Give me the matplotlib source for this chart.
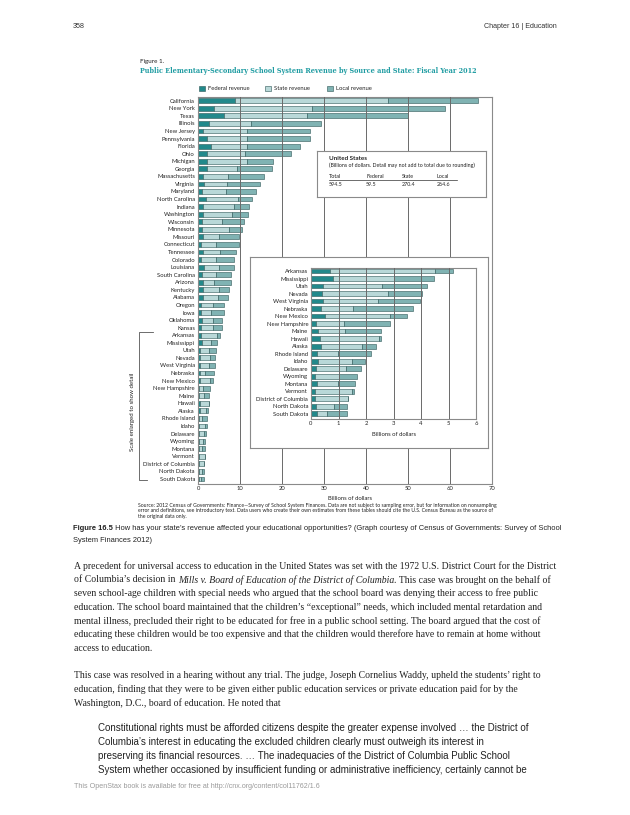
import numpy as np
import matplotlib
matplotlib.use("Agg")
import matplotlib.pyplot as plt
from matplotlib.patches import Rectangle
from matplotlib.lines import Line2D

W, H, DPI = 630, 815, 100

# ---------------- data ----------------
states = ["California", "New York", "Texas", "Illinois", "New Jersey", "Pennsylvania",
          "Florida", "Ohio", "Michigan", "Georgia", "Massachusetts", "Virginia",
          "Maryland", "North Carolina", "Indiana", "Washington", "Wisconsin",
          "Minnesota", "Missouri", "Connecticut", "Tennessee", "Colorado",
          "Louisiana", "South Carolina", "Arizona", "Kentucky", "Alabama", "Oregon",
          "Iowa", "Oklahoma", "Kansas", "Arkansas", "Mississippi", "Utah", "Nevada",
          "West Virginia", "Nebraska", "New Mexico", "New Hampshire", "Maine",
          "Hawaii", "Alaska", "Rhode Island", "Idaho", "Delaware", "Wyoming",
          "Montana", "Vermont", "District of Columbia", "North Dakota", "South Dakota"]
federal = [8.8, 3.7, 6.2, 2.5, 1.2, 2.1, 3.0, 2.1, 2.0, 2.0,
           1.0, 1.3, 0.8, 1.9, 1.1, 1.1, 0.9, 0.8, 1.1, 0.6,
           1.2, 0.7, 1.4, 0.8, 1.1, 1.0, 1.0, 0.6, 0.6, 0.8,
           0.6, 0.68, 0.80, 0.42, 0.41, 0.44, 0.38, 0.50, 0.19, 0.24,
           0.32, 0.35, 0.21, 0.27, 0.18, 0.15, 0.22, 0.15, 0.15, 0.18, 0.22]
state_rev = [36.4, 23.4, 19.7, 10.0, 10.5, 9.6, 8.7, 9.1, 9.7, 7.3,
             6.1, 5.5, 5.9, 7.5, 7.5, 7.0, 4.7, 6.5, 3.9, 3.6,
             4.0, 3.6, 3.6, 3.5, 2.7, 3.9, 3.6, 3.0, 2.5, 2.8,
             3.0, 3.83, 2.20, 2.16, 2.40, 2.01, 1.15, 2.38, 1.02, 1.01,
             2.16, 1.52, 0.76, 1.23, 1.08, 0.85, 0.75, 1.35, 1.18, 0.64, 0.36]
local_rev = [21.4, 31.6, 24.0, 16.6, 14.9, 14.8, 12.4, 10.8, 6.0, 8.2,
             8.5, 7.8, 7.0, 3.3, 3.5, 3.7, 5.2, 3.2, 4.8, 5.6,
             3.7, 4.2, 3.4, 3.5, 4.0, 2.3, 2.5, 2.4, 2.9, 2.1,
             2.0, 0.64, 1.47, 1.64, 1.24, 1.53, 2.17, 0.60, 1.65, 1.31,
             0.07, 0.51, 1.22, 0.48, 0.56, 0.66, 0.64, 0.08, 0.0, 0.49, 0.72]
inset_first = states.index("Arkansas")
main_ticks = [0, 10, 20, 30, 40, 50, 60, 70]
inset_ticks = [0, 1, 2, 3, 4, 5, 6]
legend_labels = ["Federal revenue", "State revenue", "Local revenue"]
us_headers = ["Total", "Federal", "State", "Local"]
us_values = ["594.5", "59.5", "270.4", "264.6"]

# ---------------- styles ----------------
C_FED, C_STATE, C_LOCAL = "#22898b", "#b9d8d8", "#80b3b3"
EDGE = "#2d5656"
GRID = "#6a6a6a"
FRAME = "#8a8a8a"
TEAL_TITLE = "#1f9ca2"
TXT = "#222222"
CHART_FONT = "Lato"

fig = plt.figure(figsize=(W / DPI, H / DPI), dpi=DPI)
fig.patch.set_facecolor("white")
renderer = fig.canvas.get_renderer()


def fx(x):
    return x / W


def fy(y):
    return 1 - y / H


def rect(x0, y0, x1, y1):
    return [x0 / W, 1 - y1 / H, (x1 - x0) / W, (y1 - y0) / H]


def twidth(s, size, **kw):
    t = fig.text(0, 0, s, fontsize=size, **kw)
    w = t.get_window_extent(renderer=renderer).width
    t.remove()
    return w


def adv(s, size, **kw):
    return twidth("|" + s + "|", size, **kw) - twidth("||", size, **kw)


def fit(s, width, **kw):
    return 10.0 * width / twidth(s, 10.0, **kw)


def put(x, y, s, size, ha="left", va="center", **kw):
    kw.setdefault("color", TXT)
    return fig.text(fx(x), fy(y), s, fontsize=size, ha=ha, va=va, **kw)


def put_segments(x, y, segs, size, base_kw):
    cur = x
    for s, extra in segs:
        kw = dict(base_kw)
        kw.update(extra)
        put(cur, y, s, size, **kw)
        cur += adv(s, size, **kw)


# ---------------- header ----------------
SANS = "Liberation Sans"
hs = fit("Chapter 16 | Education", 73, family=SANS)
put(73, 27, "358", hs, family=SANS, color="#333333")
put(557, 27, "Chapter 16 | Education", hs, ha="right", family=SANS, color="#333333")

# ---------------- chart title ----------------
fs = fit("Figure 1.", 24, family=CHART_FONT)
put(140, 62, "Figure 1.", fs, family=CHART_FONT)
title = "Public Elementary-Secondary School System Revenue by Source and State: Fiscal Year 2012"
ts = fit(title, 338, family="DejaVu Serif", weight="bold")
put(140, 71, title, ts, family="DejaVu Serif", weight="bold", color=TEAL_TITLE)

# ---------------- label font size ----------------
ls = fit("District of Columbia", 51.6, family=CHART_FONT)

# ---------------- legend ----------------
leg_x = [199, 265, 327]
for lx, lab, col in zip(leg_x, legend_labels, [C_FED, C_STATE, C_LOCAL]):
    fig.add_artist(Rectangle((fx(lx), fy(91.3)), 6 / W, 5.5 / H, transform=fig.transFigure,
                             facecolor=col, edgecolor=EDGE, lw=0.4))
    put(lx + 8.5, 88.6, lab, ls, family=CHART_FONT)

# ---------------- main chart ----------------
fed = np.array(federal)
sta = np.array(state_rev)
loc = np.array(local_rev)
ypos = np.arange(len(states))

ax = fig.add_axes(rect(198.3, 96.7, 492.3, 483.5))
bh = 0.64
ax.barh(ypos, fed, height=bh, color=C_FED, edgecolor=EDGE, lw=0.4, zorder=2)
ax.barh(ypos, sta, left=fed, height=bh, color=C_STATE, edgecolor=EDGE, lw=0.4, zorder=2)
ax.barh(ypos, loc, left=fed + sta, height=bh, color=C_LOCAL, edgecolor=EDGE, lw=0.4, zorder=2)
for v in main_ticks[1:-1]:
    ax.axvline(v, color=GRID, lw=0.7, zorder=3)
ax.set_xlim(0, 70)
ax.set_ylim(len(states) - 1 + 0.6, -0.53)
ax.set_yticks(ypos)
ax.set_yticklabels(states, family=CHART_FONT, fontsize=ls, color=TXT)
ax.set_xticks(main_ticks)
ax.set_xticklabels([str(t) for t in main_ticks], family=CHART_FONT, fontsize=ls, color=TXT)
ax.tick_params(axis="y", length=0, pad=2.4)
ax.tick_params(axis="x", length=0, pad=1.6)
for sp in ax.spines.values():
    sp.set_color(FRAME)
    sp.set_linewidth(0.8)
put(350, 498.5, "Billions of dollars", ls, ha="center", family=CHART_FONT)

# bracket
fig.add_artist(Line2D([fx(153), fx(139), fx(139), fx(147)],
                      [fy(332.3), fy(332.3), fy(479.5), fy(479.5)],
                      transform=fig.transFigure, color="#555555", lw=0.6))
put(132.5, 412, "Scale enlarged to show detail", fit("Scale enlarged to show detail", 78,
    family=CHART_FONT), ha="center", rotation=90, family=CHART_FONT)

# ---------------- United States box ----------------
usax = fig.add_axes(rect(316.5, 151, 486, 197))
usax.set_xticks([])
usax.set_yticks([])
usax.set_facecolor("white")
for sp in usax.spines.values():
    sp.set_color(FRAME)
    sp.set_linewidth(0.8)
put(329, 158.5, "United States", fit("United States", 38.3, family=CHART_FONT, weight="bold"),
    family=CHART_FONT, weight="bold", zorder=5)
sub = "(Billions of dollars. Detail may not add to total due to rounding)"
put(329, 165, sub, fit(sub, 143.7, family=CHART_FONT), family=CHART_FONT, zorder=5)
col_x = [329, 366, 401.5, 436.5]
for cx, hd, vv in zip(col_x, us_headers, us_values):
    put(cx, 176.5, hd, ls * 0.92, family=CHART_FONT, zorder=5)
    put(cx, 185, vv, ls * 0.92, family=CHART_FONT, zorder=5)
fig.add_artist(Line2D([fx(329), fx(456.7)], [fy(179.6), fy(179.6)],
                      transform=fig.transFigure, color="#333333", lw=0.5, zorder=5))

# ---------------- inset ----------------
bax = fig.add_axes(rect(249.5, 257, 488, 448))
bax.set_xticks([])
bax.set_yticks([])
bax.set_facecolor("white")
for sp in bax.spines.values():
    sp.set_color(FRAME)
    sp.set_linewidth(0.8)

iax = fig.add_axes(rect(311, 267.7, 476, 418.5))
n_in = len(states) - inset_first
iy = np.arange(n_in)
f_in, s_in, l_in = fed[inset_first:], sta[inset_first:], loc[inset_first:]
iax.barh(iy, f_in, height=bh, color=C_FED, edgecolor=EDGE, lw=0.4, zorder=2)
iax.barh(iy, s_in, left=f_in, height=bh, color=C_STATE, edgecolor=EDGE, lw=0.4, zorder=2)
iax.barh(iy, l_in, left=f_in + s_in, height=bh, color=C_LOCAL, edgecolor=EDGE, lw=0.4, zorder=2)
for v in inset_ticks[1:-1]:
    iax.axvline(v, color=GRID, lw=0.7, zorder=3)
iax.set_xlim(0, 6)
iax.set_ylim(n_in - 1 + 0.64, -0.44)
iax.set_yticks(iy)
iax.set_yticklabels(states[inset_first:], family=CHART_FONT, fontsize=ls, color=TXT)
iax.set_xticks(inset_ticks)
iax.set_xticklabels([str(t) for t in inset_ticks], family=CHART_FONT, fontsize=ls, color=TXT)
iax.tick_params(axis="y", length=0, pad=2.0)
iax.tick_params(axis="x", length=0, pad=2.0)
for sp in iax.spines.values():
    sp.set_color(FRAME)
    sp.set_linewidth(0.8)
put(394, 434, "Billions of dollars", ls, ha="center", family=CHART_FONT, zorder=5)

# ---------------- source ----------------
src = ["Source: 2012 Census of Governments: Finance\u2014Survey of School System Finances. Data are not subject to sampling error, but for information on nonsampling",
       "error and definitions, see introductory text. Data users who create their own estimates from these tables should cite the U.S. Census Bureau as the source of",
       "the original data only."]
ss = fit(src[1], 353, family=CHART_FONT)
for i, line in enumerate(src):
    put(137.5, 505.5 + i * 5.3, line, ss, family=CHART_FONT)

# ---------------- caption ----------------
cap1_rest = " How has your state\u2019s revenue affected your educational opportunities? (Graph courtesy of Census of Governments: Survey of School"
cs = 10.0 * 484 / (adv("Figure 16.5", 10, family=SANS, weight="bold") + adv(cap1_rest, 10, family=SANS))
put_segments(73, 528, [("Figure 16.5", {"weight": "bold"}), (cap1_rest, {})], cs, {"family": SANS})
put(73, 540, "System Finances 2012)", cs, family=SANS)

# ---------------- body paragraphs ----------------
SERIF = "Liberation Serif"
p1 = [
    [("A precedent for universal access to education in the United States was set with the 1972 U.S. District Court for the District", {})],
    [("of Columbia\u2019s decision in ", {}), ("Mills v. Board of Education of the District of Columbia", {"style": "italic"}),
     (". This case was brought on the behalf of", {})],
    [("seven school-age children with special needs who argued that the school board was denying their access to free public", {})],
    [("education. The school board maintained that the children\u2019s \u201cexceptional\u201d needs, which included mental retardation and", {})],
    [("mental illness, precluded their right to be educated for free in a public school setting. The board argued that the cost of", {})],
    [("educating these children would be too expensive and that the children would therefore have to remain at home without", {})],
    [("access to education.", {})],
]
p2 = [
    [("This case was resolved in a hearing without any trial. The judge, Joseph Cornelius Waddy, upheld the students\u2019 right to", {})],
    [("education, finding that they were to be given either public education services or private education paid for by the", {})],
    [("Washington, D.C., board of education. He noted that", {})],
]
bs = fit(p1[0][0][0], 480, family=SERIF)
for i, segs in enumerate(p1):
    put_segments(74, 566 + i * 13.7, segs, bs, {"family": SERIF})
for i, segs in enumerate(p2):
    put_segments(74, 675 + i * 14.0, segs, bs, {"family": SERIF})

quote = ["Constitutional rights must be afforded citizens despite the greater expense involved \u2026 the District of",
         "Columbia\u2019s interest in educating the excluded children clearly must outweigh its interest in",
         "preserving its financial resources. \u2026 The inadequacies of the District of Columbia Public School",
         "System whether occasioned by insufficient funding or administrative inefficiency, certainly cannot be"]
qs = fit(quote[0], 431, family=SANS)
for i, line in enumerate(quote):
    put(97.7, 728 + i * 14.0, line, qs, family=SANS)

foot = "This OpenStax book is available for free at http://cnx.org/content/col11762/1.6"
put(74, 787, foot, fit(foot, 248, family=SANS), family=SANS, color="#9a9a9a")

fig.savefig("out.png", dpi=DPI, facecolor="white")
